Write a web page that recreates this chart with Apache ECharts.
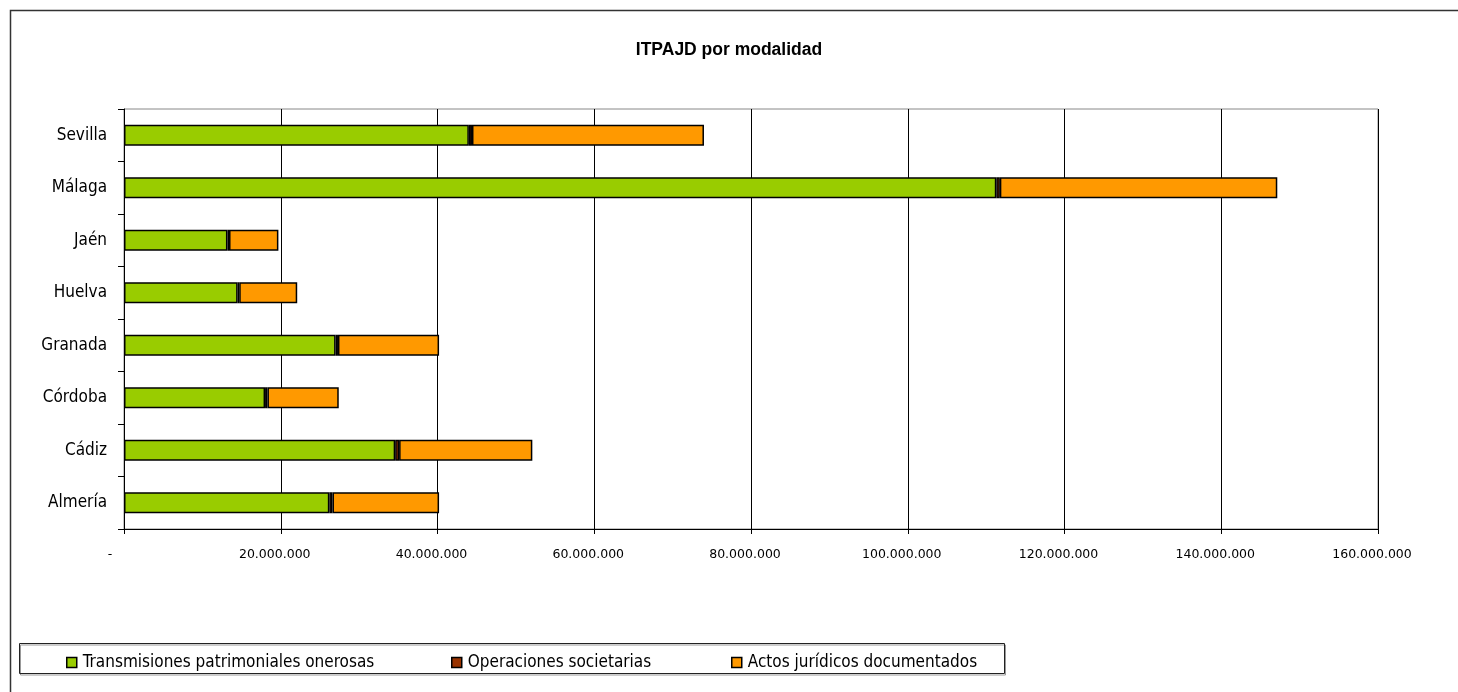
<!DOCTYPE html>
<html>
<head>
<meta charset="utf-8">
<title>ITPAJD por modalidad</title>
<script src="https://cdn.jsdelivr.net/npm/echarts@6/dist/echarts.min.js"></script>
<style>
  html, body { margin: 0; padding: 0; background: #fff; }
  #chart { width: 1458px; height: 692px; }
</style>
</head>
<body>
<div id="chart"></div>
<script>
// provincias, de abajo hacia arriba (eje de categorías)
const provincias = ['Almería', 'Cádiz', 'Córdoba', 'Granada', 'Huelva', 'Jaén', 'Málaga', 'Sevilla']
// importes en euros
const transmisiones = [26200000, 34600000, 18000000, 27000000, 14500000, 13200000, 111300000, 44000000]
const operaciones = [400000, 500000, 300000, 300000, 200000, 200000, 450000, 400000]
const actos = [13600000, 17000000, 9100000, 12900000, 7400000, 6300000, 35400000, 29600000]
const nombres = ['Transmisiones patrimoniales onerosas', 'Operaciones societarias', 'Actos jurídicos documentados']

const chart = echarts.init(document.getElementById('chart'))

// 20000000 -> 20.000.000, 0 -> '-' (formato contable, con relleno a la derecha)
function formatoMiles (v) {
  if (v === 0) return '-\u00a0\u00a0\u00a0\u00a0'
  return String(v).replace(/\B(?=(\d{3})+(?!\d))/g, '.')
}

const narrow = '"DejaVu Sans Condensed", "Liberation Sans Narrow", sans-serif'
const colores = ['#99CC00', '#993300', '#FF9900']
const datos = [transmisiones, operaciones, actos]

// una leyenda por serie para colocarlas donde están en el original
const leyendaX = [61, 446, 726]
const legends = nombres.map((n, i) => ({
  data: [n],
  left: leyendaX[i],
  top: 649,
  itemWidth: 10,
  itemHeight: 10,
  icon: 'rect',
  selectedMode: false,
  itemStyle: { borderColor: '#000', borderWidth: 1.5 },
  textStyle: { fontFamily: narrow, fontSize: 17, color: '#000', padding: [0, 0, 0, 1] }
}))

const option = {
  animation: false,
  title: {
    text: 'ITPAJD por modalidad',
    left: 'center',
    top: 36,
    textStyle: { fontFamily: '"Liberation Sans", Arial, sans-serif', fontWeight: 'bold', fontSize: 17.5, color: '#000' }
  },
  legend: legends,
  grid: {
    left: 124,
    right: 80,
    top: 109,
    bottom: 163,
    show: true,
    borderColor: '#888',
    borderWidth: 1
  },
  xAxis: {
    type: 'value',
    min: 0,
    max: 160000000,
    interval: 20000000,
    axisLine: { show: true, lineStyle: { color: '#000', width: 1 } },
    axisTick: { show: true, length: 5, lineStyle: { color: '#000' } },
    splitLine: { show: true, lineStyle: { color: '#000', width: 1 } },
    axisLabel: {
      formatter: formatoMiles,
      margin: 19,
      padding: [0, 12, 0, 0],
      fontFamily: '"DejaVu Sans", sans-serif',
      fontSize: 12.5,
      color: '#000'
    }
  },
  yAxis: {
    type: 'category',
    data: provincias,
    axisLine: { show: true, lineStyle: { color: '#000', width: 1 } },
    axisTick: { show: true, length: 6, lineStyle: { color: '#000' } },
    axisLabel: { margin: 17, fontFamily: narrow, fontSize: 17, color: '#000' }
  },
  series: nombres.map((n, i) => ({
    name: n,
    type: 'bar',
    stack: 'total',
    barWidth: 21,
    data: datos[i],
    itemStyle: { color: colores[i], borderColor: '#000', borderWidth: 1.5 }
  })),
  graphic: [
    // marco exterior (sólo se ven arriba e izquierda)
    {
      type: 'rect',
      shape: { x: 10.5, y: 10.5, width: 1500, height: 1000 },
      style: { fill: 'none', stroke: '#333', lineWidth: 1.5 },
      silent: true
    },
    // recuadro de la leyenda
    {
      type: 'rect',
      shape: { x: 19.5, y: 643.5, width: 985, height: 30 },
      style: { fill: 'none', stroke: '#222', lineWidth: 1, shadowColor: '#999', shadowOffsetY: 1.5, shadowOffsetX: 1 },
      silent: true,
      z: -1
    }
  ]
}

chart.setOption(option)
</script>
</body>
</html>
